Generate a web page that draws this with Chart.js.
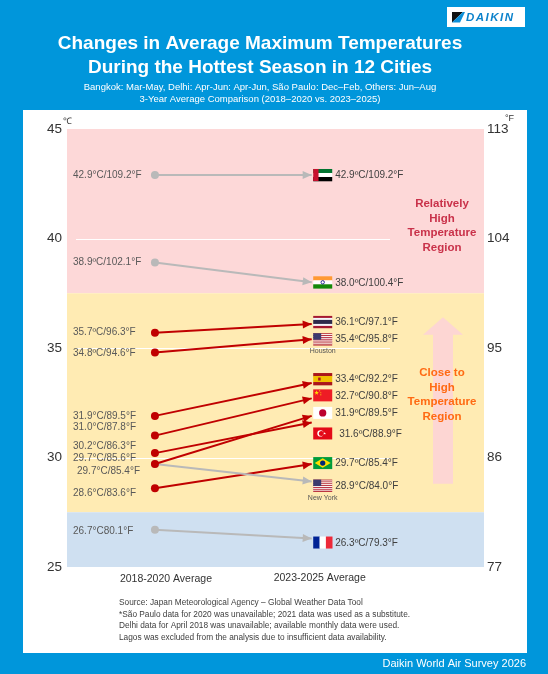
<!DOCTYPE html>
<html>
<head>
<meta charset="utf-8">
<script src="https://cdn.jsdelivr.net/npm/chart.js@4.4.1/dist/chart.umd.min.js"></script>
<style>
  html, body { margin: 0; padding: 0; background: #0096db; }
  #wrap { width: 548px; height: 674px; }
</style>
</head>
<body>
<div id="wrap"><canvas id="myChart" width="548" height="674"></canvas></div>
<script>
// data (order: top to bottom)
const cities = ['Dubai', 'Delhi', 'Bangkok', 'Houston', 'Madrid', 'Beijing', 'Istanbul', 'Tokyo', 'New York', 'São Paulo', 'Paris'];
const flags = ['ae', 'in', 'th', 'us', 'es', 'cn', 'tr', 'jp', 'us', 'br', 'fr'];
const cityTags = ['', '', '', 'Houston', '', '', '', '', 'New York', '', ''];
const avg1820 = [42.9, 38.9, 35.7, 34.8, 31.9, 31.0, 30.2, 29.7, 29.7, 28.6, 26.7];
const avg2325 = [42.9, 38.0, 36.1, 35.4, 33.4, 32.7, 31.6, 31.9, 28.9, 29.7, 26.3];
const labels1820 = ['42.9°C/109.2°F', '38.9ºC/102.1°F', '35.7ºC/96.3°F', '34.8ºC/94.6°F', '31.9°C/89.5°F', '31.0°C/87.8°F',
  '30.2°C/86.3°F', '29.7°C/85.6°F', '29.7°C/85.4°F', '28.6°C/83.6°F', '26.7°C80.1°F'];
const labels2325 = ['42.9ºC/109.2°F', '38.0ºC/100.4°F', '36.1ºC/97.1°F', '35.4ºC/95.8°F', '33.4ºC/92.2°F', '32.7ºC/90.8°F',
  '31.6ºC/88.9°F', '31.9ºC/89.5°F', '28.9°C/84.0°F', '29.7ºC/85.4°F', '26.3ºC/79.3°F'];
const periods = ['2018-2020 Average', '2023-2025 Average'];
const ticksC = [25, 30, 35, 40, 45];
const ticksF = [77, 86, 95, 104, 113];
const bandEdges = [45, 37.5, 27.5, 25];
const gridAt = [30, 35, 40];

// layout nudges so labels don't collide (pixels)
const startNudge = [0, 0, 0, 1, 0, -8, -7, -6, 7, 5, 1];
const startIndent = [0, 0, 0, 0, 0, 0, 0, 0, 4, 0, 0];
const endNudge = [0, 0, -2, 0, -4, -3, 11, -3, 4, -1, 4];
const endIndent = [0, 0, 0, 0, 0, 0, 4, 0, 0, 0, 0];

const BLUE = '#0096db';
const RED = '#c00000';
const GREY = '#b9b9b9';
const bandColors = ['#fdd8d8', '#ffebb3', '#cfe0f1'];
const FONT = '"Liberation Sans", Arial, sans-serif';

const star = (ctx, cx, cy, r, color) => {
    ctx.fillStyle = color;
    ctx.beginPath();
    for (let i = 0; i < 10; i++) {
        const rr = i % 2 === 0 ? r : r * 0.42;
        const a = -Math.PI / 2 + i * Math.PI / 5;
        ctx.lineTo(cx + rr * Math.cos(a), cy + rr * Math.sin(a));
    }
    ctx.closePath();
    ctx.fill();
};

const drawFlag = (ctx, code, x, y, w, h) => {
    const cx = x + w / 2, cy = y + h / 2;
    const stripesH = (cols, parts) => {
        let yy = y;
        const tot = parts.reduce((a, b) => a + b, 0);
        cols.forEach((c, i) => {
            const hh = h * parts[i] / tot;
            ctx.fillStyle = c;
            ctx.fillRect(x, yy, w, hh + 0.3);
            yy += hh;
        });
    };
    if (code === 'ae') {
        stripesH(['#00732f', '#ffffff', '#000000'], [1, 1, 1]);
        ctx.fillStyle = '#c8102e';
        ctx.fillRect(x, y, w * 0.28, h);
    } else if (code === 'in') {
        stripesH(['#ff9933', '#ffffff', '#138808'], [1, 1, 1]);
        ctx.strokeStyle = '#000080';
        ctx.lineWidth = 0.8;
        ctx.beginPath();
        ctx.arc(cx, cy, h * 0.14, 0, Math.PI * 2);
        ctx.stroke();
    } else if (code === 'th') {
        stripesH(['#a51931', '#f4f5f8', '#2d2a4a', '#f4f5f8', '#a51931'], [1, 1, 2, 1, 1]);
    } else if (code === 'us') {
        const cols = [];
        const parts = [];
        for (let i = 0; i < 13; i++) { cols.push(i % 2 ? '#ffffff' : '#b22234'); parts.push(1); }
        stripesH(cols, parts);
        ctx.fillStyle = '#3c3b6e';
        ctx.fillRect(x, y, w * 0.42, h * 7 / 13);
    } else if (code === 'es') {
        stripesH(['#aa151b', '#f1bf00', '#aa151b'], [1, 2, 1]);
        ctx.fillStyle = '#ad1519';
        ctx.fillRect(x + w * 0.26, cy - 1.5, 2.5, 3);
    } else if (code === 'cn') {
        ctx.fillStyle = '#ee1c25';
        ctx.fillRect(x, y, w, h);
        star(ctx, x + w * 0.18, y + h * 0.28, h * 0.2, '#ffde00');
        star(ctx, x + w * 0.34, y + h * 0.12, h * 0.07, '#ffde00');
        star(ctx, x + w * 0.4, y + h * 0.28, h * 0.07, '#ffde00');
        star(ctx, x + w * 0.4, y + h * 0.46, h * 0.07, '#ffde00');
    } else if (code === 'jp') {
        ctx.fillStyle = '#ffffff';
        ctx.fillRect(x, y, w, h);
        ctx.fillStyle = '#bc002d';
        ctx.beginPath();
        ctx.arc(cx, cy, h * 0.3, 0, Math.PI * 2);
        ctx.fill();
    } else if (code === 'tr') {
        ctx.fillStyle = '#e30a17';
        ctx.fillRect(x, y, w, h);
        ctx.fillStyle = '#ffffff';
        ctx.beginPath();
        ctx.arc(x + w * 0.38, cy, h * 0.26, 0, Math.PI * 2);
        ctx.fill();
        ctx.fillStyle = '#e30a17';
        ctx.beginPath();
        ctx.arc(x + w * 0.43, cy, h * 0.21, 0, Math.PI * 2);
        ctx.fill();
        star(ctx, x + w * 0.6, cy, h * 0.12, '#ffffff');
    } else if (code === 'br') {
        ctx.fillStyle = '#009c3b';
        ctx.fillRect(x, y, w, h);
        ctx.fillStyle = '#ffdf00';
        ctx.beginPath();
        ctx.moveTo(x + w * 0.08, cy);
        ctx.lineTo(cx, y + h * 0.1);
        ctx.lineTo(x + w * 0.92, cy);
        ctx.lineTo(cx, y + h * 0.9);
        ctx.closePath();
        ctx.fill();
        ctx.fillStyle = '#002776';
        ctx.beginPath();
        ctx.arc(cx, cy, h * 0.22, 0, Math.PI * 2);
        ctx.fill();
    } else if (code === 'fr') {
        ['#002395', '#ffffff', '#ed2939'].forEach((c, i) => {
            ctx.fillStyle = c;
            ctx.fillRect(x + i * w / 3, y, w / 3 + 0.3, h);
        });
    }
};

const lineColor = (i) => avg2325[i] > avg1820[i] ? RED : GREY;

const datasets = cities.map((city, i) => ({
    label: city,
    data: [{x: 0, y: avg1820[i]}, {x: 1, y: avg2325[i]}],
    borderColor: lineColor(i),
    backgroundColor: lineColor(i),
    pointBackgroundColor: lineColor(i),
    borderWidth: 2,
    pointRadius: [4, 0],
    pointBorderWidth: 0,
    tension: 0
}));

// page frame: blue background, white panel, headings, logo, footer, notes
const framePlugin = {
    id: 'frame',
    beforeDraw(chart) {
        const ctx = chart.ctx;
        ctx.save();
        ctx.fillStyle = BLUE;
        ctx.fillRect(0, 0, chart.width, chart.height);
        ctx.fillStyle = '#ffffff';
        ctx.fillRect(23, 110, 504, 543);

        // logo
        ctx.fillRect(447, 7, 78, 20);
        ctx.fillStyle = '#111111';
        ctx.beginPath();
        ctx.moveTo(452, 12); ctx.lineTo(463, 12); ctx.lineTo(452, 22.5);
        ctx.closePath(); ctx.fill();
        ctx.fillStyle = '#0c8fd8';
        ctx.beginPath();
        ctx.moveTo(463, 12); ctx.lineTo(465, 12); ctx.lineTo(460, 22.5); ctx.lineTo(452, 22.5);
        ctx.closePath(); ctx.fill();
        ctx.fillStyle = '#0c82cb';
        ctx.font = 'italic bold 11.5px ' + FONT;
        ctx.letterSpacing = '1.5px';
        ctx.textAlign = 'left';
        ctx.textBaseline = 'middle';
        ctx.fillText('DAIKIN', 466, 17.5);
        ctx.letterSpacing = '0px';

        // titles
        ctx.fillStyle = '#ffffff';
        ctx.textAlign = 'center';
        ctx.font = 'bold 19px ' + FONT;
        ctx.fillText('Changes in Average Maximum Temperatures', 260, 44);
        ctx.fillText('During the Hottest Season in 12 Cities', 260, 68);
        ctx.font = '9.5px ' + FONT;
        ctx.fillText('Bangkok: Mar-May, Delhi: Apr-Jun: Apr-Jun, São Paulo: Dec–Feb, Others: Jun–Aug', 260, 87);
        ctx.fillText('3-Year Average Comparison (2018–2020 vs. 2023–2025)', 260, 99.5);

        // footer
        ctx.textAlign = 'right';
        ctx.font = '11px ' + FONT;
        ctx.fillText('Daikin World Air Survey 2026', 526, 664);

        // notes
        ctx.fillStyle = '#404040';
        ctx.textAlign = 'left';
        ctx.font = '8.3px ' + FONT;
        const notes = [
            'Source: Japan Meteorological Agency – Global Weather Data Tool',
            '*São Paulo data for 2020 was unavailable; 2021 data was used as a substitute.',
            'Delhi data for April 2018 was unavailable; available monthly data were used.',
            'Lagos was excluded from the analysis due to insufficient data availability.'
        ];
        notes.forEach((t, i) => ctx.fillText(t, 119, 603 + i * 11.5));
        ctx.restore();
    },
    beforeDatasetsDraw(chart) {
        const ctx = chart.ctx;
        const {left, right} = chart.chartArea;
        const y = chart.scales.y;
        ctx.save();
        for (let i = 0; i < bandColors.length; i++) {
            const top = y.getPixelForValue(bandEdges[i]);
            const bot = y.getPixelForValue(bandEdges[i + 1]);
            ctx.fillStyle = bandColors[i];
            ctx.fillRect(left, top, right - left, bot - top);
        }
        ctx.strokeStyle = '#ffffff';
        ctx.lineWidth = 1;
        gridAt.forEach(v => {
            const py = Math.round(y.getPixelForValue(v)) + 0.5;
            ctx.beginPath();
            ctx.moveTo(left + 9, py);
            ctx.lineTo(390, py);
            ctx.stroke();
        });

        // big pale arrow
        const ax = right - 41;
        const aTop = y.getPixelForValue(36.4);
        const aBase = y.getPixelForValue(35.6);
        const aBot = y.getPixelForValue(28.8);
        ctx.fillStyle = '#fdd6d3';
        ctx.beginPath();
        ctx.moveTo(ax, aTop);
        ctx.lineTo(ax + 20, aBase);
        ctx.lineTo(ax + 10, aBase);
        ctx.lineTo(ax + 10, aBot);
        ctx.lineTo(ax - 10, aBot);
        ctx.lineTo(ax - 10, aBase);
        ctx.lineTo(ax - 20, aBase);
        ctx.closePath();
        ctx.fill();

        ctx.textAlign = 'center';
        ctx.textBaseline = 'middle';
        ctx.font = 'bold 11.5px ' + FONT;
        ctx.fillStyle = '#c9324a';
        ['Relatively', 'High', 'Temperature', 'Region'].forEach((t, i) => ctx.fillText(t, right - 42, 204 + i * 14.5));
        ctx.fillStyle = '#ff6a13';
        ['Close to', 'High', 'Temperature', 'Region'].forEach((t, i) => ctx.fillText(t, right - 42, 373 + i * 14.5));
        ctx.restore();
    },
    afterDatasetsDraw(chart) {
        const ctx = chart.ctx;
        const {left} = chart.chartArea;
        const xs = chart.scales.x;
        const ys = chart.scales.y;
        ctx.save();
        ctx.textBaseline = 'middle';
        chart.data.datasets.forEach((ds, i) => {
            const meta = chart.getDatasetMeta(i);
            const p0 = meta.data[0], p1 = meta.data[1];
            const ang = Math.atan2(p1.y - p0.y, p1.x - p0.x);
            const len = 9, half = 4;
            ctx.fillStyle = ds.borderColor;
            ctx.beginPath();
            ctx.moveTo(p1.x, p1.y);
            ctx.lineTo(p1.x - len * Math.cos(ang) + half * Math.sin(ang), p1.y - len * Math.sin(ang) - half * Math.cos(ang));
            ctx.lineTo(p1.x - len * Math.cos(ang) - half * Math.sin(ang), p1.y - len * Math.sin(ang) + half * Math.cos(ang));
            ctx.closePath();
            ctx.fill();

            // start labels
            ctx.textAlign = 'left';
            ctx.font = '10px ' + FONT;
            ctx.fillStyle = '#595959';
            ctx.fillText(labels1820[i], left + 6 + startIndent[i], p0.y + startNudge[i]);

            // flags and end labels
            const fw = 19, fh = 12;
            const fx = p1.x + 1.5;
            const fcy = p1.y + endNudge[i];
            drawFlag(ctx, flags[i], fx, fcy - fh / 2, fw, fh);
            ctx.fillStyle = '#404040';
            ctx.font = '10px ' + FONT;
            ctx.textAlign = 'left';
            ctx.fillText(labels2325[i], fx + fw + 3 + endIndent[i], fcy + 0.5);
            if (cityTags[i]) {
                ctx.font = '7px ' + FONT;
                ctx.fillStyle = '#555555';
                ctx.textAlign = 'center';
                ctx.fillText(cityTags[i], fx + fw / 2, fcy + fh / 2 + 6);
            }
        });

        // period labels under the two columns
        ctx.fillStyle = '#333333';
        ctx.font = '10.5px ' + FONT;
        ctx.textAlign = 'center';
        ctx.fillText(periods[0], xs.getPixelForValue(0) + 11, ys.bottom + 12);
        ctx.fillText(periods[1], xs.getPixelForValue(1) + 8, ys.bottom + 11);

        // units
        ctx.font = '9px ' + FONT;
        ctx.textAlign = 'left';
        ctx.fillText('℃', left - 4, ys.top - 7);
        ctx.fillText('°F', chart.chartArea.right + 21, ys.top - 10);
        ctx.restore();
    }
};

const config = {
    type: 'line',
    data: {datasets: datasets},
    options: {
        responsive: false,
        animation: false,
        layout: {padding: {left: 30, right: 24, top: 129, bottom: 107}},
        plugins: {legend: {display: false}, tooltip: {enabled: false}},
        scales: {
            x: {type: 'linear', min: -0.561, max: 2.099, display: false},
            y: {
                type: 'linear', position: 'left', min: ticksC[0], max: ticksC[ticksC.length - 1],
                afterFit: (scale) => { scale.width = 37; },
                afterBuildTicks: (scale) => { scale.ticks = ticksC.map(v => ({value: v})); },
                ticks: {padding: 5, color: '#333', font: {size: 13.5, family: FONT}},
                grid: {display: false, drawTicks: false},
                border: {display: false}
            },
            yF: {
                type: 'linear', position: 'right', min: ticksF[0], max: ticksF[ticksF.length - 1],
                afterFit: (scale) => { scale.width = 40; },
                afterBuildTicks: (scale) => { scale.ticks = ticksF.map(v => ({value: v})); },
                ticks: {padding: 3, color: '#333', font: {size: 13.5, family: FONT}},
                grid: {display: false, drawTicks: false},
                border: {display: false}
            }
        }
    },
    plugins: [framePlugin]
};

const myChart = new Chart(document.getElementById('myChart'), config);
</script>
</body>
</html>
